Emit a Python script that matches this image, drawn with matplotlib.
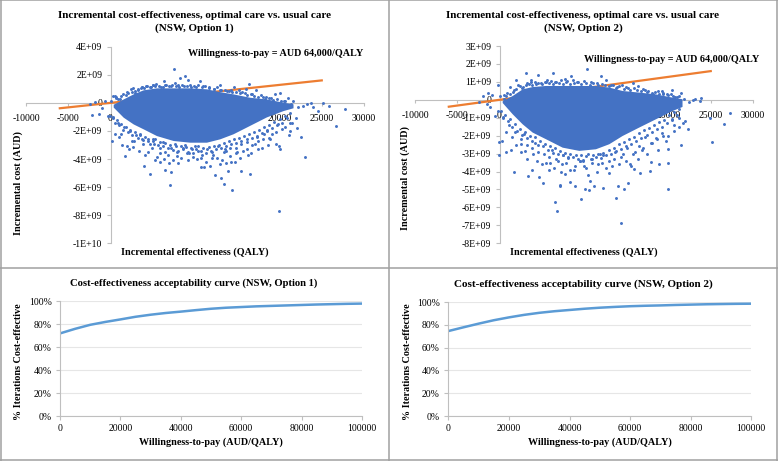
import matplotlib
matplotlib.use('Agg')
import matplotlib.pyplot as plt
from matplotlib.lines import Line2D

plt.rcParams['font.family'] = ['Liberation Serif', 'DejaVu Serif']
plt.rcParams['axes.unicode_minus'] = False

W, H = 778, 461
BLUE = '#4472C4'
ORANGE = '#ED7D31'
CURVE = '#5B9BD5'
AXIS = '#BFBFBF'

# ICER scatter, costs in AUD billions
# outer points, dense middle kept as an upper/lower edge
opt1_x = [7494, 8833, 8242, 9188, 10567, 6351, 7612, 12931, 16359, 14625, 16004, 2608, 5051, 3672, 520,
          23766, 25145, 25854, 27785, 26642, 22978, 19944, 14389, 7021, 13404, 13128, 12340, 16556, 15492,
          13916, 4657, 3948, 1702, 7218, 6430, 10685, 11040, 11749, 12931, 13719, 14704, 14310, 8006, 9188,
          5839, 6942, 9779, 128, 520, 1190, 2687, 1899, 3869, 4460, 5445,
          -2400, -1400, -2200, -700, -300, 100, 300, 700, 1100, 1500, 2000, 2400, 2900, 3300, 3700,
          4200, 4800, 5400, 6000, 6600, 7200, 8000, 8700, 9400, 10100, 10900, 11600, 12300, 13000, 13800,
          14400, 15200, 15900, 16700, 17200, 17800, 18400, 19000, 19500, 20000, 20500, 21000, 21600, 22200,
          22800, 23300, 24000, 24500, 21200, 20300, 19600, 18800, 18200, 17500, 16800, 16100, 15400, 14800,
          14100, 13400, 12700, 12100, 11400, 10700, 10000, 9300, 8600, 7900, 7200, 6500, 5800, 5100,
          4400, 3700, 3000, 2300, 1600, 900, 300, -100, 17900, 18900, 19900, 20100, 21100, 21300, 22600,
          22000, 19800, 18500, 17300, 16300, 15000, 13500, 12000, 10400, 8800, 7600, 6200, 5000, 3500, 2500]
opt1_y = [2.42, 1.9, 1.76, 1.64, 1.59, 1.59, 1.4, 1.3, 1.35, 1.1, 1.0, 1.04, 1.3, 1.16, 0.52,
          0.0, 0.0, -0.19, -0.45, -1.66, -3.87, -7.67, -6.24, -5.84, -5.77, -5.34, -5.17, -5.08, -4.82,
          -4.86, -5.1, -4.46, -3.8, -4.94, -4.77, -4.58, -4.58, -4.46, -4.34, -4.27, -4.22, -4.18, -4.27, -4.1,
          -4.18, -4.3, -3.87, -2.68, -2.25, -2.2, -3.16, -3.04, -2.92, -3.5, -3.87,
          -0.1, -0.8, -0.85, 0.1, -0.9, 0.15, 0.5, 0.45, 0.3, 0.6, 0.75, 1.0, 0.7, 0.95, 1.1,
          1.2, 1.15, 1.35, 1.1, 1.25, 1.2, 1.3, 1.2, 1.25, 1.15, 1.2, 1.1, 1.0, 0.95, 0.85,
          0.8, 0.95, 0.7, 0.6, 0.9, 0.55, 0.45, 0.35, 0.6, 0.7, 0.15, 0.35, 0.1, -0.3,
          -0.25, -0.05, -0.3, -0.55, -1.4, -1.85, -2.1, -2.5, -2.2, -2.7, -3.0, -3.3, -2.9, -3.6,
          -3.2, -3.5, -3.1, -3.7, -3.3, -3.9, -3.1, -3.6, -3.2, -3.8, -3.2, -3.5, -3.2, -2.9,
          -2.7, -2.6, -2.3, -2.0, -1.7, -1.4, -1.1, -0.9, -3.2, -2.6, -3.1, -3.3, -2.3, -2.0, -2.4,
          -1.1, -1.5, -1.9, -2.4, -3.7, -3.5, -3.3, -3.9, -3.4, -3.0, -2.95, -2.8, -2.6, -2.2, -2.7]
opt1_edge_x = [600, 900, 1300, 1800, 2100, 2500, 2900, 3200, 3600, 4000, 4300, 4700, 5000, 5300, 5700, 6200, 6500,
               6900, 7300, 7700, 8100, 8500, 9000, 9500, 9900, 10300, 10800, 11200, 11700, 12200, 12600, 13100,
               13500, 14000, 14300, 14800, 15300, 15600, 16200, 16600, 17000, 17500, 18000, 18300, 18700, 19200,
               19700, 20200, 20700, 21400,
               300, 500, 800, 1000, 1200, 1500, 1800, 2100, 2300, 2600, 2900, 3200, 3500, 3800, 4100, 4400, 4700,
               5000, 5300, 5600, 5900, 6200, 6500, 6800, 7100, 7400, 7700, 8000, 8300, 8600, 8900, 9200, 9500,
               9800, 10100, 10400, 10700, 11000, 11300, 11600, 11900, 12200, 12500, 12800, 13100, 13400, 13700,
               14000, 14300, 14600, 14900, 15200, 15500, 15800, 16100, 16400, 16700, 17000, 17300, 17600, 17900,
               18200, 18500, 18800, 19100, 19400, 19700, 20000, 20300, 20600, 20900, 21200]
opt1_edge_y = [0.35, 0.25, 0.5, 0.55, 0.7, 0.75, 0.85, 1.0, 1.05, 1.05, 1.2, 1.15, 1.25, 1.2, 1.2, 1.15, 1.3,
               1.2, 1.25, 1.2, 1.15, 1.3, 1.2, 1.1, 1.2, 1.25, 1.1, 1.2, 1.05, 1.0, 1.1, 0.95,
               0.9, 0.85, 0.95, 0.75, 0.7, 0.8, 0.55, 0.65, 0.5, 0.4, 0.45, 0.3, 0.35, 0.2,
               0.25, 0.1, 0.15, -0.05,
               -1.0, -1.4, -1.25, -1.6, -1.5, -1.9, -1.75, -2.05, -1.95, -2.3, -2.1, -2.5, -2.3, -2.65, -2.45, -2.6, -2.9,
               -2.7, -2.55, -3.0, -2.8, -3.1, -2.85, -3.2, -3.0, -3.35, -3.05, -3.45, -3.1, -3.3, -3.15, -3.5, -3.2,
               -3.6, -3.25, -3.1, -3.4, -3.2, -3.55, -3.15, -3.4, -3.05, -3.3, -3.0, -3.2, -2.85, -3.05,
               -2.7, -2.95, -2.6, -2.85, -2.5, -2.75, -2.35, -2.6, -2.2, -2.5, -2.05, -2.35, -1.9, -2.15,
               -1.75, -2.0, -1.55, -1.8, -1.35, -1.6, -1.15, -1.4, -0.9, -1.1, -0.7]
opt1_stray_x = [1000, 1400, 2200, 2800, 3400, 4100, 4900, 5300, 5800, 6300, 6800, 7400, 7900, 8400, 9100, 9600, 10200,
                10800, 11300, 12000, 12600, 13200, 13700, 14200, 14900, 15300, 15700, 16200, 16600, 17100, 17500,
                18100, 18600, 19100, 19600, 20700, 21500, 22100, -1000, -1800]
opt1_stray_y = [-2.4, -3.0, -3.3, -2.7, -3.4, -3.7, -3.2, -4.1, -3.6, -4.0, -3.7, -4.1, -3.5, -3.9, -3.6, -3.3, -4.0,
                -3.7, -4.2, -3.5, -3.9, -4.1, -3.4, -3.8, -3.2, -3.9, -3.4, -2.8, -3.6, -2.9, -3.3,
                -2.6, -3.0, -2.2, -2.9, -1.7, -1.4, -1.8, -0.4, 0.05]
cloud1_x = [320, 1505, 2687, 3869, 5445, 7415, 9385, 11355, 12931, 14507, 16477, 18447, 20417, 21600]
cloud1_hi = [-0.1, 0.28, 0.64, 0.93, 1.07, 1.07, 1.07, 1.0, 0.8, 0.64, 0.4, 0.28, 0.05, -0.07]
cloud1_lo = [-0.3, -1.02, -1.5, -1.85, -2.33, -2.68, -2.8, -2.8, -2.56, -2.2, -1.6, -1.0, -0.55, -0.35]

opt2_x = [10409, 3081, 4499, 6390, 8518, 12025, 7809, 12616, 1899, 3672, 5642, -157, -1332, 21520, 20417,
          19235, 23845, 23175, 27274, 26564, 24948, 25145, 21520, 19944, 19944, 19944, 14389, 6863, 6627,
          9661, 13798, 14704, 15216, 14034, 12222, 10567, 10173, 11237, 10764, 7218, 7139, 8400, 8991, 1742,
          3396, 3790, 5130, 4657, 5051, 5839, 7809, 16674, 15886, 17856, 18920, 17935, -71, -71, 320, 714,
          1308, 2490, 3003,
          -2400, -1900, -1500, -900, -500, 100, 500, 900, 1300, 1700, 2200, 2700, 3200, 3700, 4300,
          4900, 5500, 6100, 6700, 7300, 8000, 8700, 9300, 10000, 10800, 11500, 13200, 13900, 14500, 15200,
          15800, 16400, 17000, 17600, 18200, 18800, 19300, 19800, 20500, 21000, 21800, 22400, 22900, 23700,
          21200, 20600, 19900, 19200, 18500, 17900, 17200, 16500, 15800, 15100, 14400, 13700, 13000, 12300,
          11600, 10900, 10200, 9500, 8800, 8100, 7400, 6700, 6000, 5300, 4600, 3900, 3200, 2500, 1800, 1100,
          400, -200, 20400, 21700, 22300, 18600, 16900, 15400, 13300, 11900, 9900, 7500, 6200, 4200, 2900]
opt2_y = [1.73, 1.49, 1.39, 1.52, 1.34, 1.34, 1.17, 1.08, 1.08, 1.08, 1.11, 0.8, 0.37, 0.39, 0.52,
          0.48, 0.11, 0.06, -0.72, -1.34, -1.0, -2.34, -2.5, -4.96, -3.53, -2.73, -6.86, -6.2, -5.7,
          -5.55, -5.46, -4.96, -4.63, -4.83, -4.9, -5.05, -4.96, -4.83, -4.55, -4.74, -4.83, -4.59, -4.81, -4.03,
          -4.22, -3.94, -4.63, -4.31, -3.6, -3.94, -4.12, -4.07, -3.85, -3.97, -3.57, -3.44, -3.1, -2.36, -2.27, -2.92,
          -2.79, -2.49, -2.86,
          -0.1, 0.2, -0.25, 0.25, -0.9, 0.2, 0.05, 0.4, 0.7, 0.55, 0.85, 0.65, 0.95, 1.0, 0.9,
          0.95, 1.0, 1.05, 1.0, 1.1, 1.05, 1.1, 1.0, 1.05, 1.0, 0.95, 0.85, 0.7, 0.8, 0.65,
          0.95, 0.75, 0.6, 0.5, 0.35, 0.5, 0.3, 0.35, 0.2, 0.15, 0.05, -0.1, 0.0, -0.05,
          -1.5, -1.75, -2.0, -1.85, -2.15, -2.4, -2.1, -2.6, -3.0, -2.7, -3.2, -2.9, -3.4, -3.1,
          -3.6, -3.3, -3.8, -3.4, -3.9, -3.2, -3.6, -3.3, -3.5, -3.0, -2.9, -2.7, -2.5, -2.2, -1.8, -1.4,
          -1.0, -0.6, -1.1, -1.3, -1.6, -2.2, -2.8, -3.6, -3.7, -3.0, -3.4, -3.1, -2.8, -2.4, -1.9]
opt2_edge_x = [500, 800, 1200, 1600, 2000, 2400, 2800, 3100, 3500, 3900, 4200, 4600, 5000, 5400, 5800, 6300, 6600,
               7000, 7500, 7900, 8300, 8800, 9200, 9700, 10200, 10700, 11100, 11600, 12100, 12500, 13000, 13400,
               13800, 14200, 14700, 15000, 15500, 15900, 16300, 16700, 17200, 17500, 18000, 18400, 18900, 19400,
               19900, 20300, 20800, 21300,
               200, 400, 700, 1000, 1300, 1500, 1800, 2100, 2400, 2700, 3000, 3300, 3600, 3900, 4200, 4500, 4800,
               5100, 5400, 5700, 6000, 6300, 6600, 6900, 7200, 7500, 7800, 8100, 8400, 8700, 9000, 9300, 9600,
               9900, 10200, 10500, 10800, 11100, 11400, 11700, 12000, 12300, 12600, 12900, 13200, 13500, 13800,
               14100, 14400, 14700, 15000, 15300, 15600, 15900, 16200, 16500, 16800, 17100, 17400, 17700, 18000,
               18300, 18600, 18900, 19200, 19500, 19800, 20100, 20400, 20700, 21000, 21300]
opt2_edge_y = [0.25, 0.2, 0.35, 0.45, 0.6, 0.75, 0.7, 0.85, 0.9, 0.85, 1.0, 0.95, 0.9, 1.0, 0.95, 0.9, 1.0,
               0.95, 0.9, 1.0, 0.9, 0.95, 1.0, 0.9, 0.95, 0.85, 0.95, 0.85, 0.9, 0.85, 0.75, 0.8,
               0.65, 0.75, 0.6, 0.7, 0.55, 0.65, 0.55, 0.5, 0.55, 0.45, 0.4, 0.45, 0.3, 0.4,
               0.25, 0.3, 0.15, 0.2,
               -0.6, -0.95, -0.85, -1.2, -1.05, -1.5, -1.35, -1.75, -1.6, -1.95, -1.8, -2.15, -2.0, -2.3, -2.1, -2.5, -2.3,
               -2.6, -2.45, -2.8, -2.6, -2.95, -2.7, -3.0, -2.85, -3.1, -2.95, -3.25, -3.0, -3.2, -3.05, -3.3, -3.1,
               -3.35, -3.15, -3.0, -3.3, -3.1, -3.2, -3.0, -3.25, -2.95, -3.1, -2.8, -3.0, -2.7, -2.85,
               -2.45, -2.75, -2.35, -2.55, -2.2, -2.45, -2.05, -2.3, -1.85, -2.15, -1.7, -1.95, -1.55, -1.8,
               -1.4, -1.65, -1.25, -1.5, -1.1, -1.3, -0.85, -1.05, -0.7, -0.85, -0.5]
opt2_stray_x = [800, 1500, 2000, 2600, 3300, 4000, 4400, 5500, 5900, 6400, 6900, 7300, 7900, 8300, 8900, 9500, 10000,
                10500, 11000, 11500, 12100, 12600, 13000, 13600, 14100, 14600, 15000, 15600, 16000, 16400, 17000,
                17400, 18000, 18700, 19300, 19700, 20700, 21300, 22000, -1100]
opt2_stray_y = [-1.8, -2.1, -2.5, -2.9, -3.3, -3.0, -3.4, -3.5, -3.2, -3.8, -3.4, -4.0, -3.5, -3.9, -3.7, -3.4, -3.7,
                -4.2, -3.5, -4.0, -3.5, -3.8, -4.1, -3.3, -3.6, -3.0, -3.4, -3.7, -2.9, -3.3, -2.7,
                -3.0, -2.4, -2.8, -2.0, -2.3, -1.4, -1.0, -1.2, -0.4]
cloud2_x = [320, 1505, 2687, 3869, 5445, 7415, 9385, 11355, 12931, 14507, 16477, 18447, 20417, 21600]
cloud2_hi = [-0.05, 0.24, 0.61, 0.74, 0.8, 0.8, 0.8, 0.8, 0.71, 0.52, 0.43, 0.33, 0.15, 0.06]
cloud2_lo = [-0.15, -0.78, -1.34, -1.8, -2.17, -2.64, -2.82, -2.73, -2.45, -1.99, -1.52, -1.06, -0.6, -0.37]

wtp_x = [-6000, 25000]
wtp_y = [-0.384, 1.6]

x_ticks = [-10000, -5000, 0, 5000, 10000, 15000, 20000, 25000, 30000]
y1_ticks = [-10, -8, -6, -4, -2, 0, 2, 4]
y1_labels = ['-1E+10', '-8E+09', '-6E+09', '-4E+09', '-2E+09', '0', '2E+09', '4E+09']
y2_ticks = [-8, -7, -6, -5, -4, -3, -2, -1, 0, 1, 2, 3]
y2_labels = ['-8E+09', '-7E+09', '-6E+09', '-5E+09', '-4E+09', '-3E+09', '-2E+09', '-1E+09', '0',
             '1E+09', '2E+09', '3E+09']

# acceptability curves
wtp_grid = [0, 5000, 10000, 15000, 20000, 25000, 30000, 35000, 40000, 45000, 50000, 55000, 60000, 65000, 70000,
            75000, 80000, 85000, 90000, 95000, 100000]
ceac1 = [72, 76, 79.5, 82, 84.2, 86.5, 88.3, 89.8, 91, 92.3, 93.5, 94.4, 95, 95.6, 96, 96.4, 96.8, 97.2, 97.5, 97.8, 98]
ceac2 = [74.5, 77.8, 81, 84, 86.5, 88.7, 90.5, 91.9, 93, 94.1, 95, 95.7, 96.3, 96.7, 97, 97.4, 97.7, 98, 98.2, 98.4, 98.5]
pct_ticks = [0, 20, 40, 60, 80, 100]
wtp_ticks = [0, 20000, 40000, 60000, 80000, 100000]

FS = 7.3
TICK_FS = 7.0


def px_axes(fig, left, right, top, bottom):
    return fig.add_axes([left / W, 1 - bottom / H, (right - left) / W, (bottom - top) / H])


def label(fig, x, y, s, size=FS, **kw):
    fig.text(x / W, 1 - y / H, s, ha='center', va='center', fontweight='bold', fontsize=size, **kw)


def scatter_panel(fig, rect, xs, ys, cx, chi, clo, yticks, ylabels, ylim):
    ax = px_axes(fig, *rect)
    ax.patch.set_alpha(0)
    ax.plot(wtp_x, wtp_y, color=ORANGE, lw=1.6, zorder=2)
    ax.fill_between(cx, clo, chi, color=BLUE, lw=0, zorder=3)
    ax.scatter(xs, ys, s=4.5, color=BLUE, lw=0, zorder=3)
    ax.set_xlim(-10000, 30000)
    ax.set_ylim(*ylim)
    for side in ['top', 'right']:
        ax.spines[side].set_visible(False)
    ax.spines['left'].set_position(('data', 0))
    ax.spines['bottom'].set_position(('data', 0))
    ax.spines['left'].set_color(AXIS)
    ax.spines['bottom'].set_color(AXIS)
    ax.spines['left'].set_zorder(1)
    ax.spines['bottom'].set_zorder(1)
    ax.set_xticks(x_ticks)
    ax.set_yticks(yticks)
    ax.set_yticklabels(ylabels)
    ax.tick_params(axis='x', length=2, color=AXIS, labelsize=TICK_FS, pad=6)
    ax.tick_params(axis='y', length=3, color=AXIS, labelsize=TICK_FS, pad=3)
    for t in ax.get_xticklabels() + ax.get_yticklabels():
        t.set_zorder(5)
    return ax


def curve_panel(fig, rect, ys):
    ax = px_axes(fig, *rect)
    ax.plot(wtp_grid, ys, color=CURVE, lw=1.8)
    ax.set_xlim(0, 100000)
    ax.set_ylim(0, 100)
    ax.set_xticks(wtp_ticks)
    ax.set_yticks(pct_ticks)
    ax.set_yticklabels([f'{p}%' for p in pct_ticks])
    ax.grid(axis='y', color='#E6E6E6', lw=0.8)
    ax.set_axisbelow(True)
    for side in ['top', 'right']:
        ax.spines[side].set_visible(False)
    ax.spines['left'].set_color(AXIS)
    ax.spines['bottom'].set_color(AXIS)
    ax.tick_params(length=3, color=AXIS, labelsize=TICK_FS, pad=3)
    return ax


fig = plt.figure(figsize=(W / 100, H / 100), dpi=100)

scatter_panel(fig, (26, 364, 46.7, 243.3), opt1_x + opt1_edge_x + opt1_stray_x, opt1_y + opt1_edge_y + opt1_stray_y,
              cloud1_x, cloud1_hi, cloud1_lo, y1_ticks, y1_labels, (-10, 4))
scatter_panel(fig, (415, 753, 46, 243.3), opt2_x + opt2_edge_x + opt2_stray_x, opt2_y + opt2_edge_y + opt2_stray_y,
              cloud2_x, cloud2_hi, cloud2_lo, y2_ticks, y2_labels, (-8, 3))
curve_panel(fig, (60, 362, 301.3, 416), ceac1)
curve_panel(fig, (448.3, 751.3, 302, 416), ceac2)

label(fig, 194, 15, 'Incremental cost-effectiveness, optimal care vs. usual care', size=8)
label(fig, 194, 28, '(NSW, Option 1)', size=8)
label(fig, 583, 15, 'Incremental cost-effectiveness, optimal care vs. usual care', size=8)
label(fig, 583, 28, '(NSW, Option 2)', size=8)
label(fig, 276, 54, 'Willingness-to-pay = AUD 64,000/QALY')
label(fig, 672, 60, 'Willingness-to-pay = AUD 64,000/QALY')
label(fig, 18, 183, 'Incremental cost (AUD)', rotation=90)
label(fig, 405, 178, 'Incremental cost (AUD)', rotation=90)
label(fig, 195, 252, 'Incremental effectiveness (QALY)')
label(fig, 584, 252, 'Incremental effectiveness (QALY)')
label(fig, 194, 283, 'Cost-effectiveness acceptability curve (NSW, Option 1)', size=7.7)
label(fig, 583, 284, 'Cost-effectiveness acceptability curve (NSW, Option 2)', size=8.05)
label(fig, 19, 362, '% Iterations Cost-effective', rotation=90)
label(fig, 408, 362, '% Iterations Cost-effective', rotation=90)
label(fig, 211, 442, 'Willingness-to-pay (AUD/QALY)')
label(fig, 600, 442, 'Willingness-to-pay (AUD/QALY)')

# panel frame
frame = [((0.5, 0.5), (0, H)), ((388.7, 388.7), (0, H)), ((777.3, 777.3), (0, H)),
         ((0, W), (0.5, 0.5)), ((0, W), (268, 268)), ((0, W), (460, 460))]
for fx, fy in frame:
    fig.add_artist(Line2D([v / W for v in fx], [1 - v / H for v in fy], color='#A0A0A0', lw=1.1))

fig.savefig('out.png', dpi=100)
